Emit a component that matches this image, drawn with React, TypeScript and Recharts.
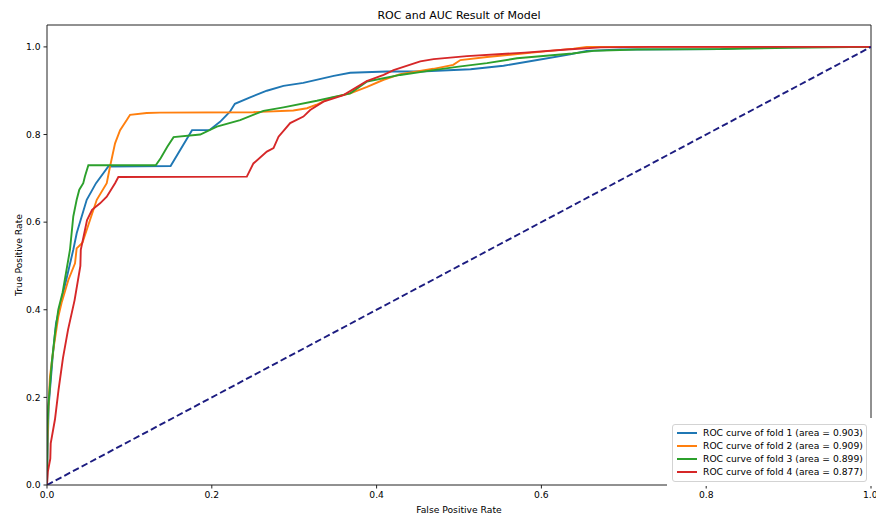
import React from "react";
import { LineChart, Line, XAxis, YAxis, ReferenceLine, Legend, Label } from "recharts";

// ROC points (false positive rate, true positive rate)
const fold1Fpr = [0, 0.001, 0.002, 0.0069, 0.0109, 0.0198, 0.0319, 0.0361, 0.0482, 0.0595, 0.0744, 0.15, 0.176, 0.197, 0.21, 0.222, 0.228, 0.2465, 0.2668, 0.287, 0.311, 0.348, 0.368, 0.4125, 0.453, 0.514, 0.554, 0.595, 0.635, 0.655, 0.696, 0.817, 0.86, 1];
const fold1Tpr = [0, 0.1, 0.18, 0.293, 0.369, 0.44, 0.537, 0.575, 0.651, 0.689, 0.727, 0.728, 0.81, 0.81, 0.829, 0.852, 0.87, 0.885, 0.9, 0.911, 0.918, 0.934, 0.941, 0.944, 0.944, 0.949, 0.957, 0.97, 0.983, 0.991, 0.994, 0.995, 0.999, 1];

const fold2Fpr = [0, 0.0004, 0.0016, 0.0036, 0.0076, 0.0137, 0.018, 0.0259, 0.034, 0.036, 0.043, 0.0522, 0.0604, 0.0725, 0.0765, 0.0826, 0.0887, 0.0968, 0.1008, 0.121, 0.137, 0.2505, 0.299, 0.3155, 0.327, 0.3435, 0.368, 0.3885, 0.4085, 0.4287, 0.449, 0.469, 0.493, 0.5017, 0.534, 0.595, 0.639, 0.655, 1];
const fold2Tpr = [0, 0.09, 0.17, 0.247, 0.308, 0.384, 0.418, 0.468, 0.506, 0.54, 0.553, 0.605, 0.651, 0.689, 0.727, 0.78, 0.81, 0.833, 0.845, 0.849, 0.85, 0.851, 0.855, 0.86, 0.868, 0.883, 0.894, 0.909, 0.925, 0.938, 0.944, 0.95, 0.959, 0.97, 0.977, 0.988, 0.996, 1, 1];

const fold3Fpr = [0, 0.0004, 0.0016, 0.0057, 0.0097, 0.0137, 0.019, 0.0279, 0.0319, 0.036, 0.0392, 0.044, 0.046, 0.0502, 0.132, 0.1379, 0.146, 0.1536, 0.186, 0.2061, 0.2344, 0.2627, 0.287, 0.3275, 0.368, 0.3885, 0.4287, 0.469, 0.4996, 0.5339, 0.5704, 0.6375, 0.6634, 0.716, 0.817, 0.9, 1];
const fold3Tpr = [0, 0.119, 0.179, 0.278, 0.346, 0.4, 0.44, 0.537, 0.613, 0.651, 0.674, 0.689, 0.704, 0.73, 0.73, 0.746, 0.772, 0.794, 0.8, 0.818, 0.833, 0.854, 0.862, 0.877, 0.894, 0.921, 0.936, 0.947, 0.955, 0.963, 0.974, 0.985, 0.991, 0.994, 0.995, 0.998, 1];

const fold4Fpr = [0, 0.001, 0.004, 0.0045, 0.0097, 0.014, 0.0194, 0.0255, 0.0335, 0.0405, 0.041, 0.0486, 0.0547, 0.0644, 0.0725, 0.0826, 0.0866, 0.2425, 0.2505, 0.2668, 0.2749, 0.281, 0.2951, 0.3112, 0.3194, 0.3355, 0.3598, 0.388, 0.4085, 0.4206, 0.453, 0.4692, 0.5096, 0.58, 0.631, 0.672, 0.733, 1];
const fold4Tpr = [0, 0.03, 0.06, 0.095, 0.15, 0.217, 0.29, 0.354, 0.422, 0.5, 0.537, 0.605, 0.628, 0.643, 0.658, 0.689, 0.703, 0.704, 0.734, 0.761, 0.769, 0.795, 0.826, 0.841, 0.856, 0.875, 0.89, 0.922, 0.936, 0.947, 0.967, 0.972, 0.979, 0.987, 0.994, 0.999, 1, 1];

const chanceFpr = [0, 1];
const chanceTpr = [0, 1];

const foldNames = [
  "ROC curve of fold 1 (area = 0.903)",
  "ROC curve of fold 2 (area = 0.909)",
  "ROC curve of fold 3 (area = 0.899)",
  "ROC curve of fold 4 (area = 0.877)",
];
const foldColors = ["#1f77b4", "#ff7f0e", "#2ca02c", "#d62728"];
const xTicks = [0, 0.2, 0.4, 0.6, 0.8, 1.0];
const yTicks = [0, 0.2, 0.4, 0.6, 0.8, 1.0];

const FONT = "'DejaVu Sans', sans-serif";

function toPoints(fpr: number[], tpr: number[]) {
  return fpr.map((x, i) => ({ fpr: x, tpr: tpr[i] }));
}

const folds = [
  toPoints(fold1Fpr, fold1Tpr),
  toPoints(fold2Fpr, fold2Tpr),
  toPoints(fold3Fpr, fold3Tpr),
  toPoints(fold4Fpr, fold4Tpr),
];
const chance = toPoints(chanceFpr, chanceTpr);

function LegendBox({ payload }: any) {
  const items = (payload || []).filter((p: any) => foldNames.includes(p.value));
  return (
    <div style={{ width: 210, height: 68, background: "#fff", position: "relative" }}>
      <div
        style={{
          position: "absolute",
          left: 5,
          top: 6,
          width: 193,
          height: 55,
          border: "1px solid #d3d3d3",
          borderRadius: 3,
          paddingTop: 1,
        }}
      >
        {items.map((p: any) => (
          <div key={p.value} style={{ display: "flex", alignItems: "center", height: 13 }}>
            <div style={{ width: 20, height: 2, background: p.color, marginLeft: 4, marginRight: 6 }} />
            <span style={{ fontFamily: FONT, fontSize: 9.2, color: "#000", whiteSpace: "nowrap" }}>{p.value}</span>
          </div>
        ))}
      </div>
    </div>
  );
}

const tickStyle = { fontFamily: FONT, fontSize: 9.2, fill: "#000" };

export default function App() {
  return (
    <div style={{ position: "absolute", left: 0, top: 0, width: 876, height: 515, background: "#fff" }}>
      <div
        style={{
          position: "absolute",
          top: 9,
          left: 47,
          width: 824,
          textAlign: "center",
          fontFamily: FONT,
          fontSize: 11,
          lineHeight: "14px",
          color: "#000",
        }}
      >
        ROC and AUC Result of Model
      </div>
      <LineChart width={876} height={515} margin={{ top: 25, right: 5, left: 7, bottom: 0 }}>
        <XAxis
          type="number"
          dataKey="fpr"
          domain={[0, 1]}
          ticks={xTicks}
          tickFormatter={(v: number) => v.toFixed(1)}
          tick={tickStyle}
          tickSize={3.5}
          tickMargin={3}
          stroke="#222"
          height={30}
          allowDataOverflow
        >
          <Label
            value="False Positive Rate"
            position="insideBottom"
            offset={2}
            style={{ fontFamily: FONT, fontSize: 9.2, fill: "#000" }}
          />
        </XAxis>
        <YAxis
          type="number"
          dataKey="tpr"
          domain={[0, 1.05]}
          ticks={yTicks}
          tickFormatter={(v: number) => v.toFixed(1)}
          tick={tickStyle}
          tickSize={3.5}
          tickMargin={3}
          stroke="#222"
          width={40}
          allowDataOverflow
        >
          <Label
            content={({ viewBox }: any) => {
              const cx = 18;
              const cy = viewBox.y + viewBox.height / 2;
              return (
                <text
                  x={cx}
                  y={cy}
                  transform={`rotate(-90 ${cx} ${cy})`}
                  textAnchor="middle"
                  dominantBaseline="central"
                  style={{ fontFamily: FONT, fontSize: 9.2, fill: "#000" }}
                >
                  True Positive Rate
                </text>
              );
            }}
          />
        </YAxis>
        <ReferenceLine y={1.05} stroke="#222" strokeWidth={1} />
        <ReferenceLine x={1} stroke="#222" strokeWidth={1} />
        {folds.map((pts, i) => (
          <Line
            key={foldNames[i]}
            data={pts}
            dataKey="tpr"
            name={foldNames[i]}
            type="linear"
            stroke={foldColors[i]}
            strokeWidth={1.9}
            dot={false}
            activeDot={false}
            isAnimationActive={false}
          />
        ))}
        <Line
          data={chance}
          dataKey="tpr"
          name="chance"
          type="linear"
          stroke="#1c1c80"
          strokeWidth={1.9}
          strokeDasharray="6.6 3.2"
          dot={false}
          activeDot={false}
          legendType="none"
          isAnimationActive={false}
        />
        <Legend
          layout="vertical"
          align="center"
          verticalAlign="middle"
          wrapperStyle={{ position: "absolute", left: 667, top: 418, width: 210, height: 68 }}
          content={<LegendBox />}
        />
      </LineChart>
    </div>
  );
}
